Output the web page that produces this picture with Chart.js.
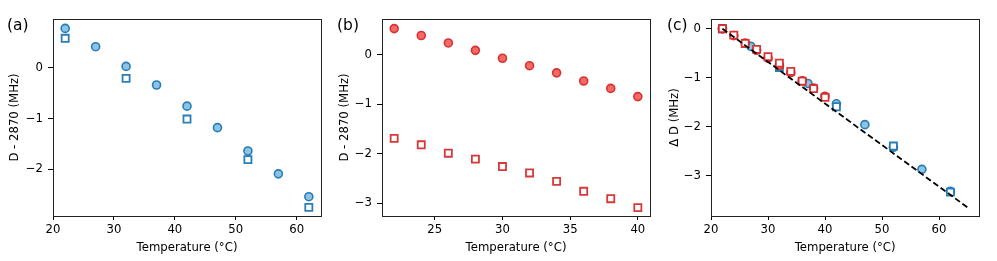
<!DOCTYPE html>
<html>
<head>
<meta charset="utf-8">
<script src="https://cdn.jsdelivr.net/npm/chart.js@4.4.1/dist/chart.umd.min.js"></script>
<style>
  body { margin: 0; background: #fff; }
  #wrap { position: relative; width: 997px; height: 261px; overflow: hidden; }
  .panel { position: absolute; top: 0; height: 261px; }
  .lbl { position: absolute; top: 15px; font: 15.5px "DejaVu Sans", sans-serif; line-height: 20px; color: #000; }
</style>
</head>
<body>
<div id="wrap">
  <div class="panel" style="left:0px;width:330px"><canvas id="chartA" width="330" height="261"></canvas></div>
  <div class="panel" style="left:330px;width:330px"><canvas id="chartB" width="330" height="261"></canvas></div>
  <div class="panel" style="left:660px;width:337px"><canvas id="chartC" width="337" height="261"></canvas></div>
  <div class="lbl" style="left:7px">(a)</div>
  <div class="lbl" style="left:337px">(b)</div>
  <div class="lbl" style="left:667px">(c)</div>
</div>
<script>
// panel (a)
const tempA = [22, 27, 32, 37, 42, 47, 52, 57, 62];
const circA = [0.775, 0.414, 0.026, -0.34, -0.756, -1.18, -1.64, -2.09, -2.54];
const tempASq = [22, 32, 42, 52, 62];
const sqA = [0.58, -0.21, -1.01, -1.81, -2.75];

// panel (b)
const tempB = [22, 24, 26, 28, 30, 32, 34, 36, 38, 40];
const circB = [0.53, 0.39, 0.24, 0.09, -0.07, -0.22, -0.365, -0.53, -0.68, -0.845];
const sqB = [-1.69, -1.82, -1.99, -2.11, -2.26, -2.39, -2.56, -2.76, -2.91, -3.09];

// panel (c): shifted values
const circCBlue = [0, -0.36, -0.75, -1.115, -1.53, -1.955, -2.415, -2.865, -3.315];
const sqCBlue = [0, -0.79, -1.59, -2.39, -3.33];
const circCRed = [0, -0.14, -0.29, -0.44, -0.60, -0.75, -0.895, -1.06, -1.21, -1.375];
const sqCRed = [0, -0.13, -0.30, -0.42, -0.57, -0.70, -0.87, -1.07, -1.22, -1.40];
const fitT = [22, 65];
const fitD = [0, -3.64];

// ticks
const ticksAX = [20, 30, 40, 50, 60];
const ticksAY = [-2, -1, 0];
const ticksBX = [25, 30, 35, 40];
const ticksBY = [-3, -2, -1, 0];
const ticksCX = [20, 30, 40, 50, 60];
const ticksCY = [-3, -2, -1, 0];

const FONT = "DejaVu Sans";
const BLUE_EDGE = "rgba(31, 119, 180, 0.95)";
const BLUE_FILL = "#8cc5e3";
const RED_EDGE = "rgba(214, 39, 40, 0.92)";
const RED_FILL = "#f26b67";

function pts(xs, ys) {
  return xs.map((x, i) => ({ x: x, y: ys[i] }));
}

function fmt(v) {
  return v < 0 ? "\u2212" + Math.abs(v) : String(v);
}

function circles(xs, ys, edge, fill) {
  return {
    type: "scatter",
    data: pts(xs, ys),
    pointStyle: "circle",
    pointRadius: 4,
    pointBorderWidth: 1.6,
    borderColor: edge,
    backgroundColor: fill,
    order: 3,
  };
}

function squares(xs, ys, edge) {
  return {
    type: "scatter",
    data: pts(xs, ys),
    pointStyle: "rect",
    pointRadius: 5,
    pointBorderWidth: 1.8,
    borderColor: edge,
    backgroundColor: "#ffffff",
    order: 2,
  };
}

// frame around plot area like matplotlib spines
const frame = {
  id: "frame",
  afterDraw(chart) {
    const a = chart.chartArea;
    const ctx = chart.ctx;
    ctx.save();
    ctx.strokeStyle = "#222";
    ctx.lineWidth = 1;
    ctx.strokeRect(Math.round(a.left) + 0.5, Math.round(a.top) + 0.5,
      Math.round(a.right - a.left), Math.round(a.bottom - a.top));
    ctx.restore();
  },
};

function makeChart(id, datasets, xr, yr, xt, yt, yTitle, padRight, yWidth) {
  const tickFont = { family: FONT, size: 11.7 };
  return new Chart(document.getElementById(id), {
    type: "scatter",
    data: { datasets: datasets },
    options: {
      responsive: false,
      animation: false,
      devicePixelRatio: 1,
      layout: { padding: { top: 19, right: padRight, left: 0, bottom: 0 } },
      plugins: { legend: { display: false }, tooltip: { enabled: false } },
      scales: {
        x: {
          type: "linear",
          min: xr[0],
          max: xr[1],
          afterBuildTicks: (s) => { s.ticks = xt.map((v) => ({ value: v })); },
          afterFit: (s) => { s.height = 45; },
          border: { display: false },
          grid: { drawOnChartArea: false, drawTicks: true, tickLength: 4, tickColor: "#000", tickWidth: 1 },
          ticks: { font: tickFont, color: "#000", padding: 3, maxRotation: 0, callback: fmt },
          title: { display: true, text: "Temperature (\u00b0C)", font: tickFont, color: "#000", padding: { top: 0, bottom: 6 } },
        },
        y: {
          type: "linear",
          min: yr[0],
          max: yr[1],
          afterBuildTicks: (s) => { s.ticks = yt.map((v) => ({ value: v })); },
          afterFit: (s) => { s.width = yWidth; },
          border: { display: false },
          grid: { drawOnChartArea: false, drawTicks: true, tickLength: 5, tickColor: "#000", tickWidth: 1 },
          ticks: { font: tickFont, color: "#000", padding: 5, callback: fmt },
          title: { display: true, text: yTitle, font: tickFont, color: "#000", padding: { top: 8, bottom: 0 } },
        },
      },
    },
    plugins: [frame],
  });
}

makeChart("chartA", [
  circles(tempA, circA, BLUE_EDGE, BLUE_FILL),
  squares(tempASq, sqA, BLUE_EDGE),
], [20, 64], [-2.92, 0.96], ticksAX, ticksAY, "D - 2870 (MHz)", 9, 53);

makeChart("chartB", [
  circles(tempB, circB, RED_EDGE, RED_FILL),
  squares(tempB, sqB, RED_EDGE),
], [21.1, 40.9], [-3.26, 0.724], ticksBX, ticksBY, "D - 2870 (MHz)", 10, 52);

const fitLine = {
  type: "line",
  data: pts(fitT, fitD),
  borderColor: "#000",
  borderWidth: 1.8,
  borderDash: [6, 3],
  pointRadius: 0,
  fill: false,
  order: 0,
};
const cBlueC = circles(tempA, circCBlue, BLUE_EDGE, BLUE_FILL); cBlueC.order = 6;
const cBlueS = squares(tempASq, sqCBlue, BLUE_EDGE); cBlueS.order = 5;
const cRedC = circles(tempB, circCRed, RED_EDGE, RED_FILL); cRedC.order = 4;
const cRedS = squares(tempB, sqCRed, RED_EDGE); cRedS.order = 3;

makeChart("chartC", [cBlueC, cBlueS, cRedC, cRedS, fitLine],
  [20, 67.07], [-3.816, 0.198], ticksCX, ticksCY, "\u0394 D (MHz)", 17.7, 51);
</script>
</body>
</html>
